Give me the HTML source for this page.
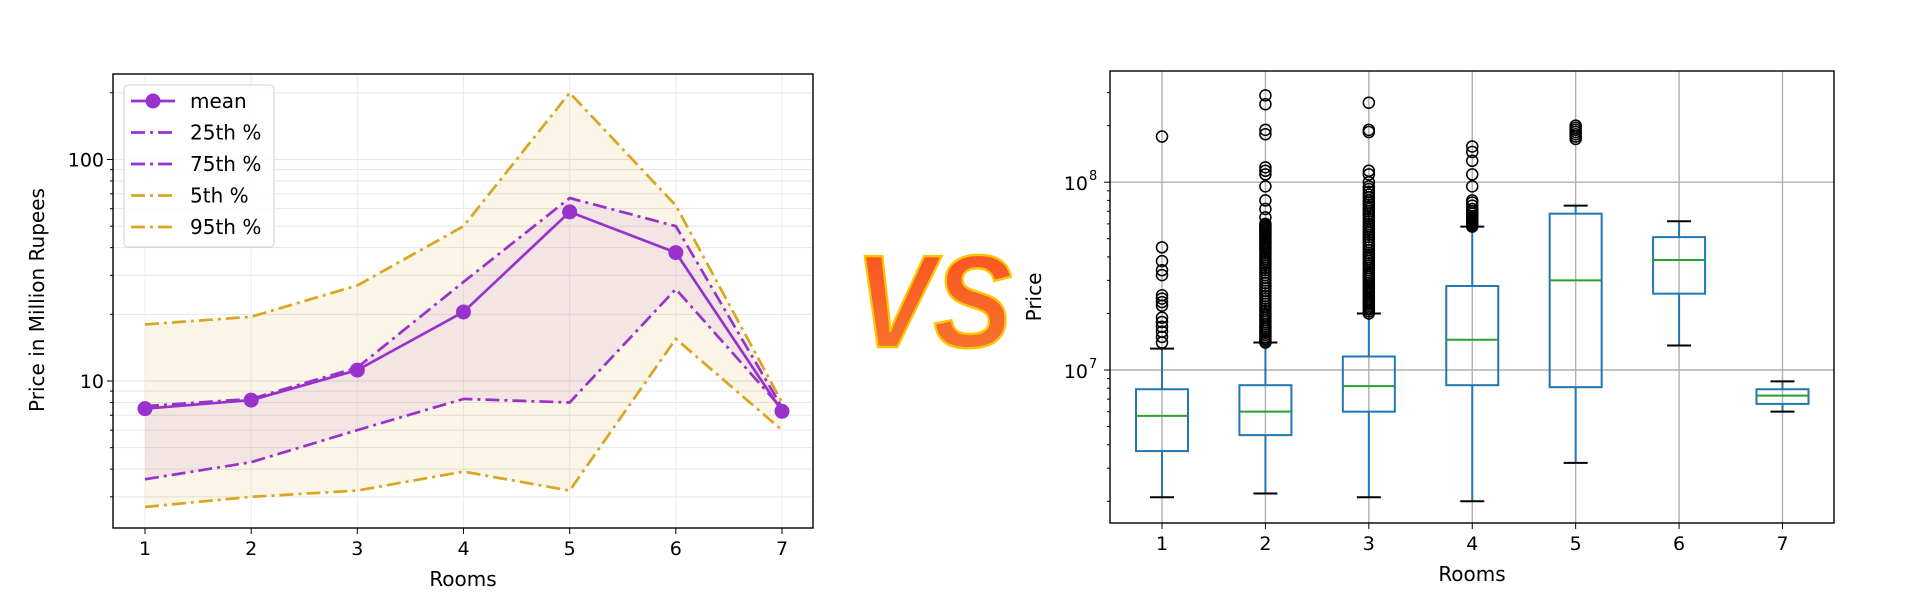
<!DOCTYPE html>
<html><head><meta charset="utf-8"><style>
html,body{margin:0;padding:0;background:#fff;}
svg{display:block;font-family:"DejaVu Sans","Liberation Sans",sans-serif;}
</style></head><body>
<svg id="root" width="1919" height="609" viewBox="0 0 1919 609" xmlns="http://www.w3.org/2000/svg">
<defs>
<linearGradient id="vsg" x1="0" y1="0" x2="0" y2="1"><stop offset="0" stop-color="#fb4f1f"/><stop offset="1" stop-color="#f47a30"/></linearGradient>
</defs>
<g id="left"></g>
<text x="855" y="347" font-family="Liberation Sans, sans-serif" font-weight="bold" font-style="italic" font-size="132" textLength="157" lengthAdjust="spacingAndGlyphs" fill="url(#vsg)" stroke="#ffc400" stroke-width="2.5">VS</text>
<g id="right"></g>
</svg>
<script>
// ---- Left chart data ----
const rooms = [1,2,3,4,5,6,7];
const meanVals = [7.5, 8.2, 11.2, 20.5, 58, 38, 7.3];
const p75Vals = [7.7, 8.3, 11.5, 28, 67, 50, 7.6];
const p25Vals = [3.6, 4.3, 6.0, 8.3, 8.0, 26, 7.5];
const p95Vals = [18, 19.5, 27, 50, 200, 62, 8.0];
const p5Vals = [2.7, 3.0, 3.2, 3.9, 3.2, 15.5, 6.0];
const leftYTicks = [10, 100];
const legendLabels = ["mean","25th %","75th %","5th %","95th %"];

// ---- Right chart data ----
const boxCats = [1,2,3,4,5,6,7];
const whiskLo = [2.1, 2.2, 2.1, 2.0, 3.2, 13.5, 6.0];
const q1Vals = [3.7, 4.5, 6.0, 8.3, 8.1, 25.5, 6.6];
const medVals = [5.7, 6.0, 8.2, 14.5, 30, 38.5, 7.3];
const q3Vals = [7.9, 8.3, 11.8, 28, 68, 51, 7.9];
const whiskHi = [13, 14, 20, 58, 75, 62, 8.7];
const outliers1 = [14,15,16,17,18,19,22,23,24,25,32,34,38,45,175];
const outliers2 = [14,14.3,14.6,15,15.4,15.8,16.2,16.6,17,17.5,18,18.5,19,19.5,20,20.6,21.2,21.8,22.5,23.2,24,24.8,25.6,26.4,27.2,28,29,30,31,32,33,34,35,36,37,38,39,40,41,42,43,44,45,46,47,48,49,50,51,52,53,54,55,56,57,58,59,60,65,72,80,95,110,115,120,180,190,260,290];
const outliers3 = [20,20.5,21,21.5,22,22.5,23,23.5,24,24.6,25.2,25.8,26.4,27,27.6,28.2,29,29.8,30.6,31.4,32.2,33,34,35,36,37,38,39,40,41,42,43.5,45,46.5,48,49.5,51,52.5,54,55.5,57,58.5,60,62,64,66,68,70,72,74,76,78,80,83,86,89,92,95,100,110,115,185,190,265];
const outliers4 = [58,59,60,61,62,63,64,65,66,68,70,72,75,78,80,95,110,130,145,155];
const outliers5 = [170,175,180,185,190,195,200];
const outlierSets = [outliers1,outliers2,outliers3,outliers4,outliers5,[],[]];
const rightYTicks = [1e7,1e8];
const rightYTickLabels = ["7","8"];

const NS="http://www.w3.org/2000/svg";
function mk(parent, tag, attrs){const e=document.createElementNS(NS,tag);for(const k in attrs)e.setAttribute(k,attrs[k]);parent.appendChild(e);return e;}

// ===== LEFT =====
(function(){
const g=document.getElementById('left');
const X0=113,X1=813,Y0=74,Y1=528;
const xs=r=>145+(r-1)*(782-145)/6;
const ys=v=>381-(Math.log10(v)-1)*221.5;
const purple="#9932cc", gold="#daa520";
mk(g,'rect',{x:X0,y:Y0,width:X1-X0,height:Y1-Y0,fill:"#fff"});
for(let d=1;d<=1000;d*=10){for(let m=1;m<10;m++){const v=d*m;const y=ys(v);if(y<Y0||y>Y1)continue;
 const l=mk(g,'line',{x1:X0,x2:X1,y1:y,y2:y,stroke:"#e6e6e6","stroke-width":m==1?1.2:1});
 
 mk(g,'line',{x1:X0-(m==1?6:3),x2:X0,y1:y,y2:y,stroke:"#000","stroke-width":1});}}
rooms.forEach(r=>{const l=mk(g,'line',{x1:xs(r),x2:xs(r),y1:Y0,y2:Y1,stroke:"#ececec","stroke-width":1});
 });
const band=(a,b,fill,op,name)=>{let d="M"+rooms.map((r,i)=>xs(r)+","+ys(a[i])).join("L");
 for(let i=rooms.length-1;i>=0;i--)d+="L"+xs(rooms[i])+","+ys(b[i]);d+="Z";
 const p=mk(g,'path',{d:d,fill:fill,"fill-opacity":op});};
band(p5Vals,p95Vals,"#daa520",0.11,"band-5-95");
band(p25Vals,p75Vals,"#9932cc",0.08,"band-25-75");
const line=(vals,col,dash,name)=>{const p=mk(g,'polyline',{points:rooms.map((r,i)=>xs(r)+","+ys(vals[i])).join(" "),fill:"none",stroke:col,"stroke-width":2.7,"stroke-dasharray":dash||""});
 };
line(p5Vals,gold,"14,5,3,5","line-5th");line(p95Vals,gold,"14,5,3,5","line-95th");
line(p25Vals,purple,"14,5,3,5","line-25th");line(p75Vals,purple,"14,5,3,5","line-75th");
line(meanVals,purple,"","line-mean");
meanVals.forEach((v,i)=>{const c=mk(g,'circle',{cx:xs(rooms[i]),cy:ys(v),r:7.5,fill:purple});
 });
mk(g,'rect',{x:X0,y:Y0,width:X1-X0,height:Y1-Y0,fill:"none",stroke:"#000","stroke-width":1.4});
rooms.forEach(r=>{mk(g,'line',{x1:xs(r),x2:xs(r),y1:Y1,y2:Y1+6,stroke:"#000"});
 const t=mk(g,'text',{x:xs(r),y:Y1+27,"font-size":19,"text-anchor":"middle",fill:"#000"});t.textContent=r;
 });
leftYTicks.forEach(v=>{const t=mk(g,'text',{x:X0-9,y:ys(v)+7,"font-size":19,"text-anchor":"end",fill:"#000"});t.textContent=v;
 });
let t=mk(g,'text',{x:(X0+X1)/2,y:586,"font-size":20,"text-anchor":"middle"});t.textContent="Rooms";

t=mk(g,'text',{x:0,y:0,"font-size":20,"text-anchor":"middle",transform:"translate(44,300) rotate(-90)"});t.textContent="Price in Million Rupees";

const lg=mk(g,'g',{});
mk(lg,'rect',{x:124,y:85,width:150,height:162,rx:4,fill:"#fff","fill-opacity":0.85,stroke:"#d0d0d0"});
const cols=[purple,purple,purple,gold,gold];
legendLabels.forEach((lab,i)=>{const y=101+i*31.5;
 const e=mk(lg,'g',{});
 mk(e,'line',{x1:131,x2:175,y1:y,y2:y,stroke:cols[i],"stroke-width":2.7,"stroke-dasharray":i?"14,5,3,5":""});
 if(i==0)mk(e,'circle',{cx:153,cy:y,r:7.5,fill:purple});
 const tt=mk(e,'text',{x:190,y:y+7,"font-size":20});tt.textContent=lab;});
})();

// ===== RIGHT =====
(function(){
const g=document.getElementById('right');
const X0=1110,X1=1834,Y0=71,Y1=523;
const xs=c=>1162+(c-1)*(1782.5-1162)/6;
const ys=v=>370-(Math.log10(v)-7)*187.8;
const blue="#1f77b4";
mk(g,'rect',{x:X0,y:Y0,width:X1-X0,height:Y1-Y0,fill:"#fff"});
boxCats.forEach(c=>{const l=mk(g,'line',{x1:xs(c),x2:xs(c),y1:Y0,y2:Y1,stroke:"#b0b0b0","stroke-width":1.4});
 });
rightYTicks.forEach(v=>{const l=mk(g,'line',{x1:X0,x2:X1,y1:ys(v),y2:ys(v),stroke:"#b0b0b0","stroke-width":1.4});
 });
for(let d=1e6;d<=1e8;d*=10){for(let m=1;m<10;m++){const y=ys(d*m);if(y<Y0||y>Y1)continue;
 mk(g,'line',{x1:X0-(m==1?6:3),x2:X0,y1:y,y2:y,stroke:"#000"});}}
const hw=26,cw=12;
boxCats.forEach((c,i)=>{const x=xs(c);const bg=mk(g,'g',{});
 
 const lo=whiskLo[i]*1e6,q1=q1Vals[i]*1e6,md=medVals[i]*1e6,q3=q3Vals[i]*1e6,hi=whiskHi[i]*1e6;
 mk(bg,'line',{x1:x,x2:x,y1:ys(lo),y2:ys(q1),stroke:blue,"stroke-width":2});
 mk(bg,'line',{x1:x,x2:x,y1:ys(q3),y2:ys(hi),stroke:blue,"stroke-width":2});
 mk(bg,'line',{x1:x-cw,x2:x+cw,y1:ys(lo),y2:ys(lo),stroke:"#000","stroke-width":2});
 mk(bg,'line',{x1:x-cw,x2:x+cw,y1:ys(hi),y2:ys(hi),stroke:"#000","stroke-width":2});
 mk(bg,'rect',{x:x-hw,y:ys(q3),width:2*hw,height:ys(q1)-ys(q3),fill:"none",stroke:blue,"stroke-width":2});
 mk(bg,'line',{x1:x-hw,x2:x+hw,y1:ys(md),y2:ys(md),stroke:"#2ca02c","stroke-width":2});
 outlierSets[i].forEach(v=>{const o=mk(bg,'circle',{cx:x,cy:ys(v*1e6),r:5.5,fill:"none",stroke:"#000","stroke-width":1.5});
  });
});
mk(g,'rect',{x:X0,y:Y0,width:X1-X0,height:Y1-Y0,fill:"none",stroke:"#000","stroke-width":1.4});
boxCats.forEach(c=>{mk(g,'line',{x1:xs(c),x2:xs(c),y1:Y1,y2:Y1+6,stroke:"#000"});
 const t=mk(g,'text',{x:xs(c),y:Y1+27,"font-size":19,"text-anchor":"middle"});t.textContent=c;
 });
rightYTicks.forEach((v,i)=>{const t=mk(g,'text',{x:X0-22,y:ys(v)+8,"font-size":19,"text-anchor":"end"});t.textContent="10";
 
 const s=mk(g,'text',{x:X0-21,y:ys(v)-2,"font-size":13});s.textContent=rightYTickLabels[i];});
let t=mk(g,'text',{x:(X0+X1)/2,y:581,"font-size":20,"text-anchor":"middle"});t.textContent="Rooms";

t=mk(g,'text',{x:0,y:0,"font-size":20,"text-anchor":"middle",transform:"translate(1041,297) rotate(-90)"});t.textContent="Price";

})();
</script>
</body></html>
